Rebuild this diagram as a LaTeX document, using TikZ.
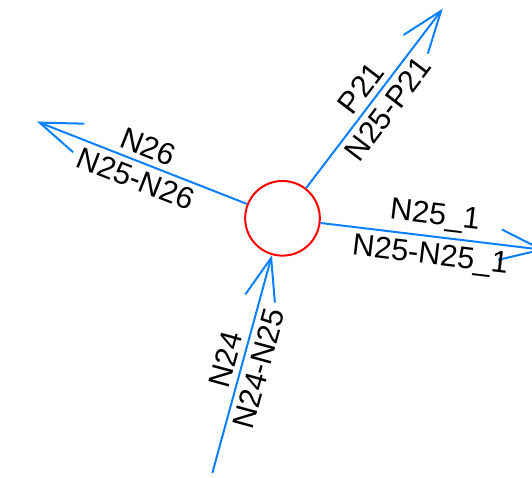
\documentclass[tikz,border=0pt]{standalone}
\usepackage{fontspec}
\setmainfont{Liberation Sans}
\usetikzlibrary{arrows.meta}
\definecolor{azulramo}{RGB}{10,128,255}

\begin{document}
\begin{tikzpicture}[x=0.75pt,y=0.75pt,
    no/.style={circle,draw=red,line width=1.5pt,minimum size=56pt,inner sep=0},
    ramo/.style={draw=azulramo,line width=1.5pt,-{Straight Barb[length=31.5pt,width=23pt]}},
    rotulo/.style={font=\fontsize{23}{27}\selectfont,inner sep=4pt}]

  \useasboundingbox (0,0) rectangle (532,478);
  \node[no] (n25) at (282.5,259.7) {};

  % ramos que saem do nó N25
  \foreach \ang/\nome/\cima/\baixo in {52.6/p21/P21/N25-P21, 158.5/n26/N26/N25-N26, 353.1/n251/N25\_1/N25-N25\_1} {
    \coordinate (\nome) at ([shift={(\ang:264)}]n25.center);
    \draw[ramo] (n25.\ang) -- (\nome)
      node[rotulo,midway,sloped,above] {\cima}
      node[rotulo,midway,sloped,below] {\baixo};
  }

  % ramo que chega ao nó
  \coordinate (n24) at ([shift={(254.6:264)}]n25.center);
  \draw[ramo] (n24) -- (n25.254.6)
    node[rotulo,midway,sloped,above] {N24}
    node[rotulo,midway,sloped,below] {N24-N25};
\end{tikzpicture}
\end{document}
